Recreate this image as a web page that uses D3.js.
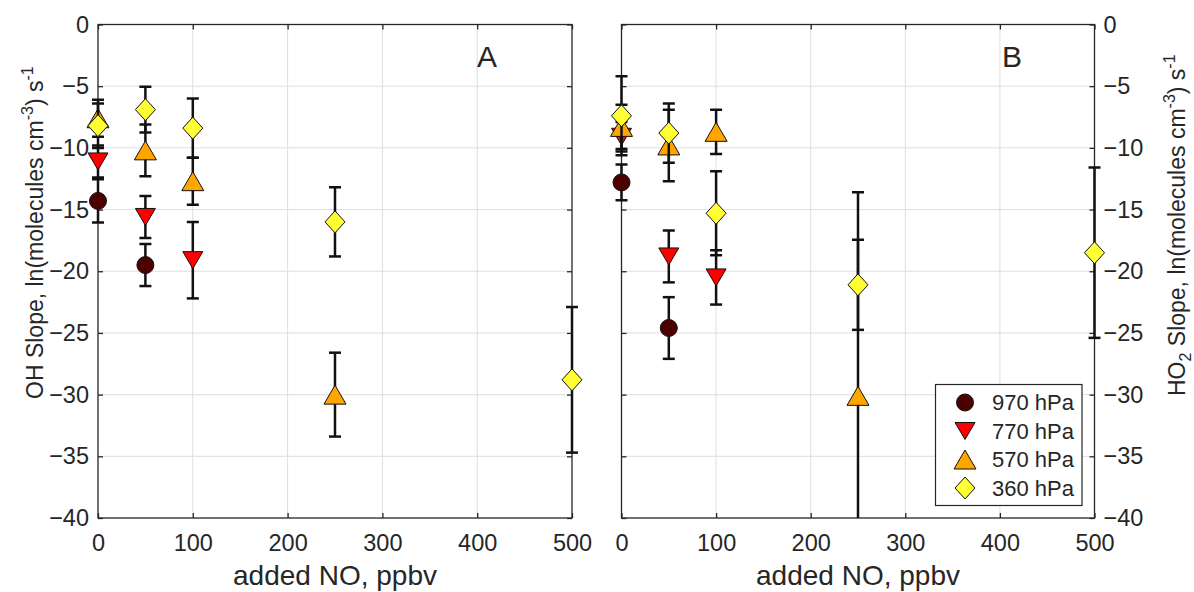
<!DOCTYPE html>
<html><head><meta charset="utf-8">
<script src="https://cdn.jsdelivr.net/npm/d3@7"></script>
<style>
body{margin:0;background:#fff}
text{font-family:"Liberation Sans",Arial,Helvetica,sans-serif;fill:#262626}
</style>
</head><body>
<svg id="c" width="1194" height="592" xmlns="http://www.w3.org/2000/svg"></svg>
<script>
// ---------- data ----------
const xTicks = [0, 100, 200, 300, 400, 500];
const yTicks = [0, -5, -10, -15, -20, -25, -30, -35, -40];
const seriesNames  = ["970 hPa", "770 hPa", "570 hPa", "360 hPa"];
const seriesColors = ["#4d0000", "#ff0000", "#ffa500", "#ffff33"];
const seriesShapes = ["circle", "triDown", "triUp", "diamond"];
const panelLabels = ["A", "B"];

// Panel A (OH slope)
const a970X = [0, 50],               a970Y = [-14.3, -19.5],                     a970E = [1.75, 1.7];
const a770X = [0, 50, 100],          a770Y = [-11.1, -15.6, -19.1],              a770E = [1.3, 1.7, 3.1];
const a570X = [0, 50, 100, 250],     a570Y = [-7.6, -10.2, -12.7, -30.0],        a570E = [1.5, 2.1, 1.9, 3.4];
const a360X = [0, 50, 100, 250, 500],a360Y = [-8.2, -6.9, -8.4, -16.0, -28.8],   a360E = [1.8, 1.85, 2.4, 2.8, 5.9];

// Panel B (HO2 slope)
const b970X = [0, 50],               b970Y = [-12.8, -24.6],                     b970E = [1.45, 2.5];
const b770X = [0, 50, 100],          b770Y = [-9.1, -18.8, -20.5],               b770E = [1.2, 2.1, 2.2];
const b570X = [0, 50, 100, 250],     b570Y = [-8.3, -9.8, -8.7, -30.1],          b570E = [1.8, 2.9, 1.8, 16.5];
const b360X = [0, 50, 100, 250, 500],b360Y = [-7.4, -8.8, -15.3, -21.1, -18.5],  b360E = [3.2, 2.4, 3.4, 3.65, 6.9];

function mk(xs, ys, es){ return xs.map((x,i)=>({x:x, y:ys[i], e:es[i]})); }
const panelA = [mk(a970X,a970Y,a970E), mk(a770X,a770Y,a770E), mk(a570X,a570Y,a570E), mk(a360X,a360Y,a360E)];
const panelB = [mk(b970X,b970Y,b970E), mk(b770X,b770Y,b770E), mk(b570X,b570Y,b570E), mk(b360X,b360Y,b360E)];

// ---------- layout ----------
const svg = d3.select("#c");
const plotTop = 24.5, plotBottom = 518;
const y = d3.scaleLinear().domain([-40, 0]).range([plotBottom, plotTop]);
const xA = d3.scaleLinear().domain([0, 500]).range([98, 572]);
const xB = d3.scaleLinear().domain([0, 500]).range([621.5, 1094.5]);
const axisColor = "#262626";
const tickFont = 23.5;

svg.append("defs").append("clipPath").attr("id","vclip")
  .append("rect").attr("x",0).attr("y",plotTop).attr("width",1194).attr("height",plotBottom-plotTop);

function shapePath(shape){
  switch(shape){
    case "triDown": return "M-10,-8.5L10,-8.5L0,8.5Z";
    case "triUp": return "M0,-9.5L11,9.5L-11,9.5Z";
    case "diamond": return "M0,-11L10,0L0,11L-10,0Z";
  }
  return "";
}
function drawMarker(g, shape, color, cx, cy){
  if(shape==="circle"){
    g.append("circle").attr("cx",cx).attr("cy",cy).attr("r",8.5)
      .attr("fill",color).attr("stroke","#111").attr("stroke-width",1);
  } else {
    g.append("path").attr("d",shapePath(shape)).attr("transform",`translate(${cx},${cy})`)
      .attr("fill",color).attr("stroke","#111").attr("stroke-width",1).attr("stroke-linejoin","miter");
  }
}

function drawPanel(x, data, side, label, labelX){
  const g = svg.append("g");
  const x0 = x.range()[0], x1 = x.range()[1];
  // grid
  g.selectAll(".gx").data(xTicks.slice(1,-1)).join("line")
    .attr("x1",d=>x(d)).attr("x2",d=>x(d)).attr("y1",plotTop).attr("y2",plotBottom)
    .attr("stroke","#dedede").attr("stroke-width",1);
  g.selectAll(".gy").data(yTicks.slice(1,-1)).join("line")
    .attr("x1",x0).attr("x2",x1).attr("y1",d=>y(d)).attr("y2",d=>y(d))
    .attr("stroke","#dedede").attr("stroke-width",1);
  // box
  g.append("rect").attr("x",x0).attr("y",plotTop).attr("width",x1-x0).attr("height",plotBottom-plotTop)
    .attr("fill","none").attr("stroke",axisColor).attr("stroke-width",1.3);

  // axes
  const bx = g.append("g").attr("transform",`translate(0,${plotBottom})`)
    .call(d3.axisBottom(x).tickValues(xTicks).tickFormat(d3.format("d")).tickSizeInner(-5).tickSizeOuter(0).tickPadding(16));
  const tx = g.append("g").attr("transform",`translate(0,${plotTop})`)
    .call(d3.axisTop(x).tickValues(xTicks).tickFormat("").tickSizeInner(-5).tickSizeOuter(0));
  const fmtY = d => d===0 ? "0" : "\u2212" + Math.abs(d);
  let ly, ry;
  if(side==="left"){
    ly = g.append("g").attr("transform",`translate(${x0},0)`)
      .call(d3.axisLeft(y).tickValues(yTicks).tickFormat(fmtY).tickSizeInner(-5).tickSizeOuter(0).tickPadding(9));
    ry = g.append("g").attr("transform",`translate(${x1},0)`)
      .call(d3.axisRight(y).tickValues(yTicks).tickFormat("").tickSizeInner(-5).tickSizeOuter(0));
  } else {
    ly = g.append("g").attr("transform",`translate(${x0},0)`)
      .call(d3.axisLeft(y).tickValues(yTicks).tickFormat("").tickSizeInner(-5).tickSizeOuter(0));
    ry = g.append("g").attr("transform",`translate(${x1},0)`)
      .call(d3.axisRight(y).tickValues(yTicks).tickFormat(fmtY).tickSizeInner(-5).tickSizeOuter(0).tickPadding(9));
  }
  [bx,tx,ly,ry].forEach(a=>{
    a.select(".domain").remove();
    a.selectAll("line").attr("stroke",axisColor).attr("stroke-width",1.3);
    a.selectAll("text").attr("font-size",tickFont).attr("fill",axisColor)
      .style("font-family",'"Liberation Sans",Arial,Helvetica,sans-serif');
  });

  // data: per series, error bars then markers
  data.forEach((pts, si)=>{
    const sg = g.append("g");
    const eb = sg.append("g").attr("clip-path","url(#vclip)");
    pts.forEach(p=>{
      const cx = x(p.x), yt = y(p.y + p.e), yb = y(p.y - p.e);
      eb.append("line").attr("x1",cx).attr("x2",cx).attr("y1",yt).attr("y2",yb)
        .attr("stroke","#111").attr("stroke-width",2.5);
      [yt,yb].forEach(yy=>{
        eb.append("line").attr("x1",cx-6).attr("x2",cx+6).attr("y1",yy).attr("y2",yy)
          .attr("stroke","#111").attr("stroke-width",2.5);
      });
    });
    pts.forEach(p=>drawMarker(sg, seriesShapes[si], seriesColors[si], x(p.x), y(p.y)));
  });

  // panel label
  g.append("text").attr("x",labelX).attr("y",67).attr("text-anchor","middle")
    .attr("font-size",30).attr("fill","#111").text(label);

  // x label
  g.append("text").attr("x",(x0+x1)/2).attr("y",585).attr("text-anchor","middle")
    .attr("font-size",28).attr("fill",axisColor).text("added NO, ppbv");
}

drawPanel(xA, panelA, "left", panelLabels[0], 487);
drawPanel(xB, panelB, "right", panelLabels[1], 1012);

// y labels
function yLabel(px, py, parts){
  const t = svg.append("text").attr("transform",`translate(${px},${py}) rotate(-90)`)
    .attr("font-size",23).attr("fill",axisColor).attr("text-anchor","start");
  parts.forEach(p=>{
    const ts = t.append("tspan").text(p.t);
    if(p.sub){ ts.attr("font-size",16).attr("dy",6); }
    else if(p.sup){ ts.attr("font-size",16).attr("dy",-10); }
    if(p.reset) ts.attr("dy",p.reset);
  });
}
yLabel(43, 399, [
  {t:"OH Slope, ln(molecules cm"},
  {t:"-3", sup:true},
  {t:") s", reset:10},
  {t:"-1", sup:true}
]);
yLabel(1185, 396, [
  {t:"HO"},
  {t:"2", sub:true},
  {t:" Slope, ln(molecules cm", reset:-6},
  {t:"-3", sup:true},
  {t:") s", reset:10},
  {t:"-1", sup:true}
]);

// legend
const lg = svg.append("g");
lg.append("rect").attr("x",935.5).attr("y",384.5).attr("width",146.5).attr("height",121)
  .attr("fill","#fff").attr("stroke",axisColor).attr("stroke-width",1.2);
const rowY = d3.scalePoint().domain(seriesNames).range([402.5, 488]);
seriesNames.forEach((n,i)=>{
  drawMarker(lg, seriesShapes[i], seriesColors[i], 965, rowY(n));
  lg.append("text").attr("x",992).attr("y",rowY(n)).attr("dy","0.36em")
    .attr("font-size",22).attr("fill",axisColor).text(n);
});
</script>
</body></html>
